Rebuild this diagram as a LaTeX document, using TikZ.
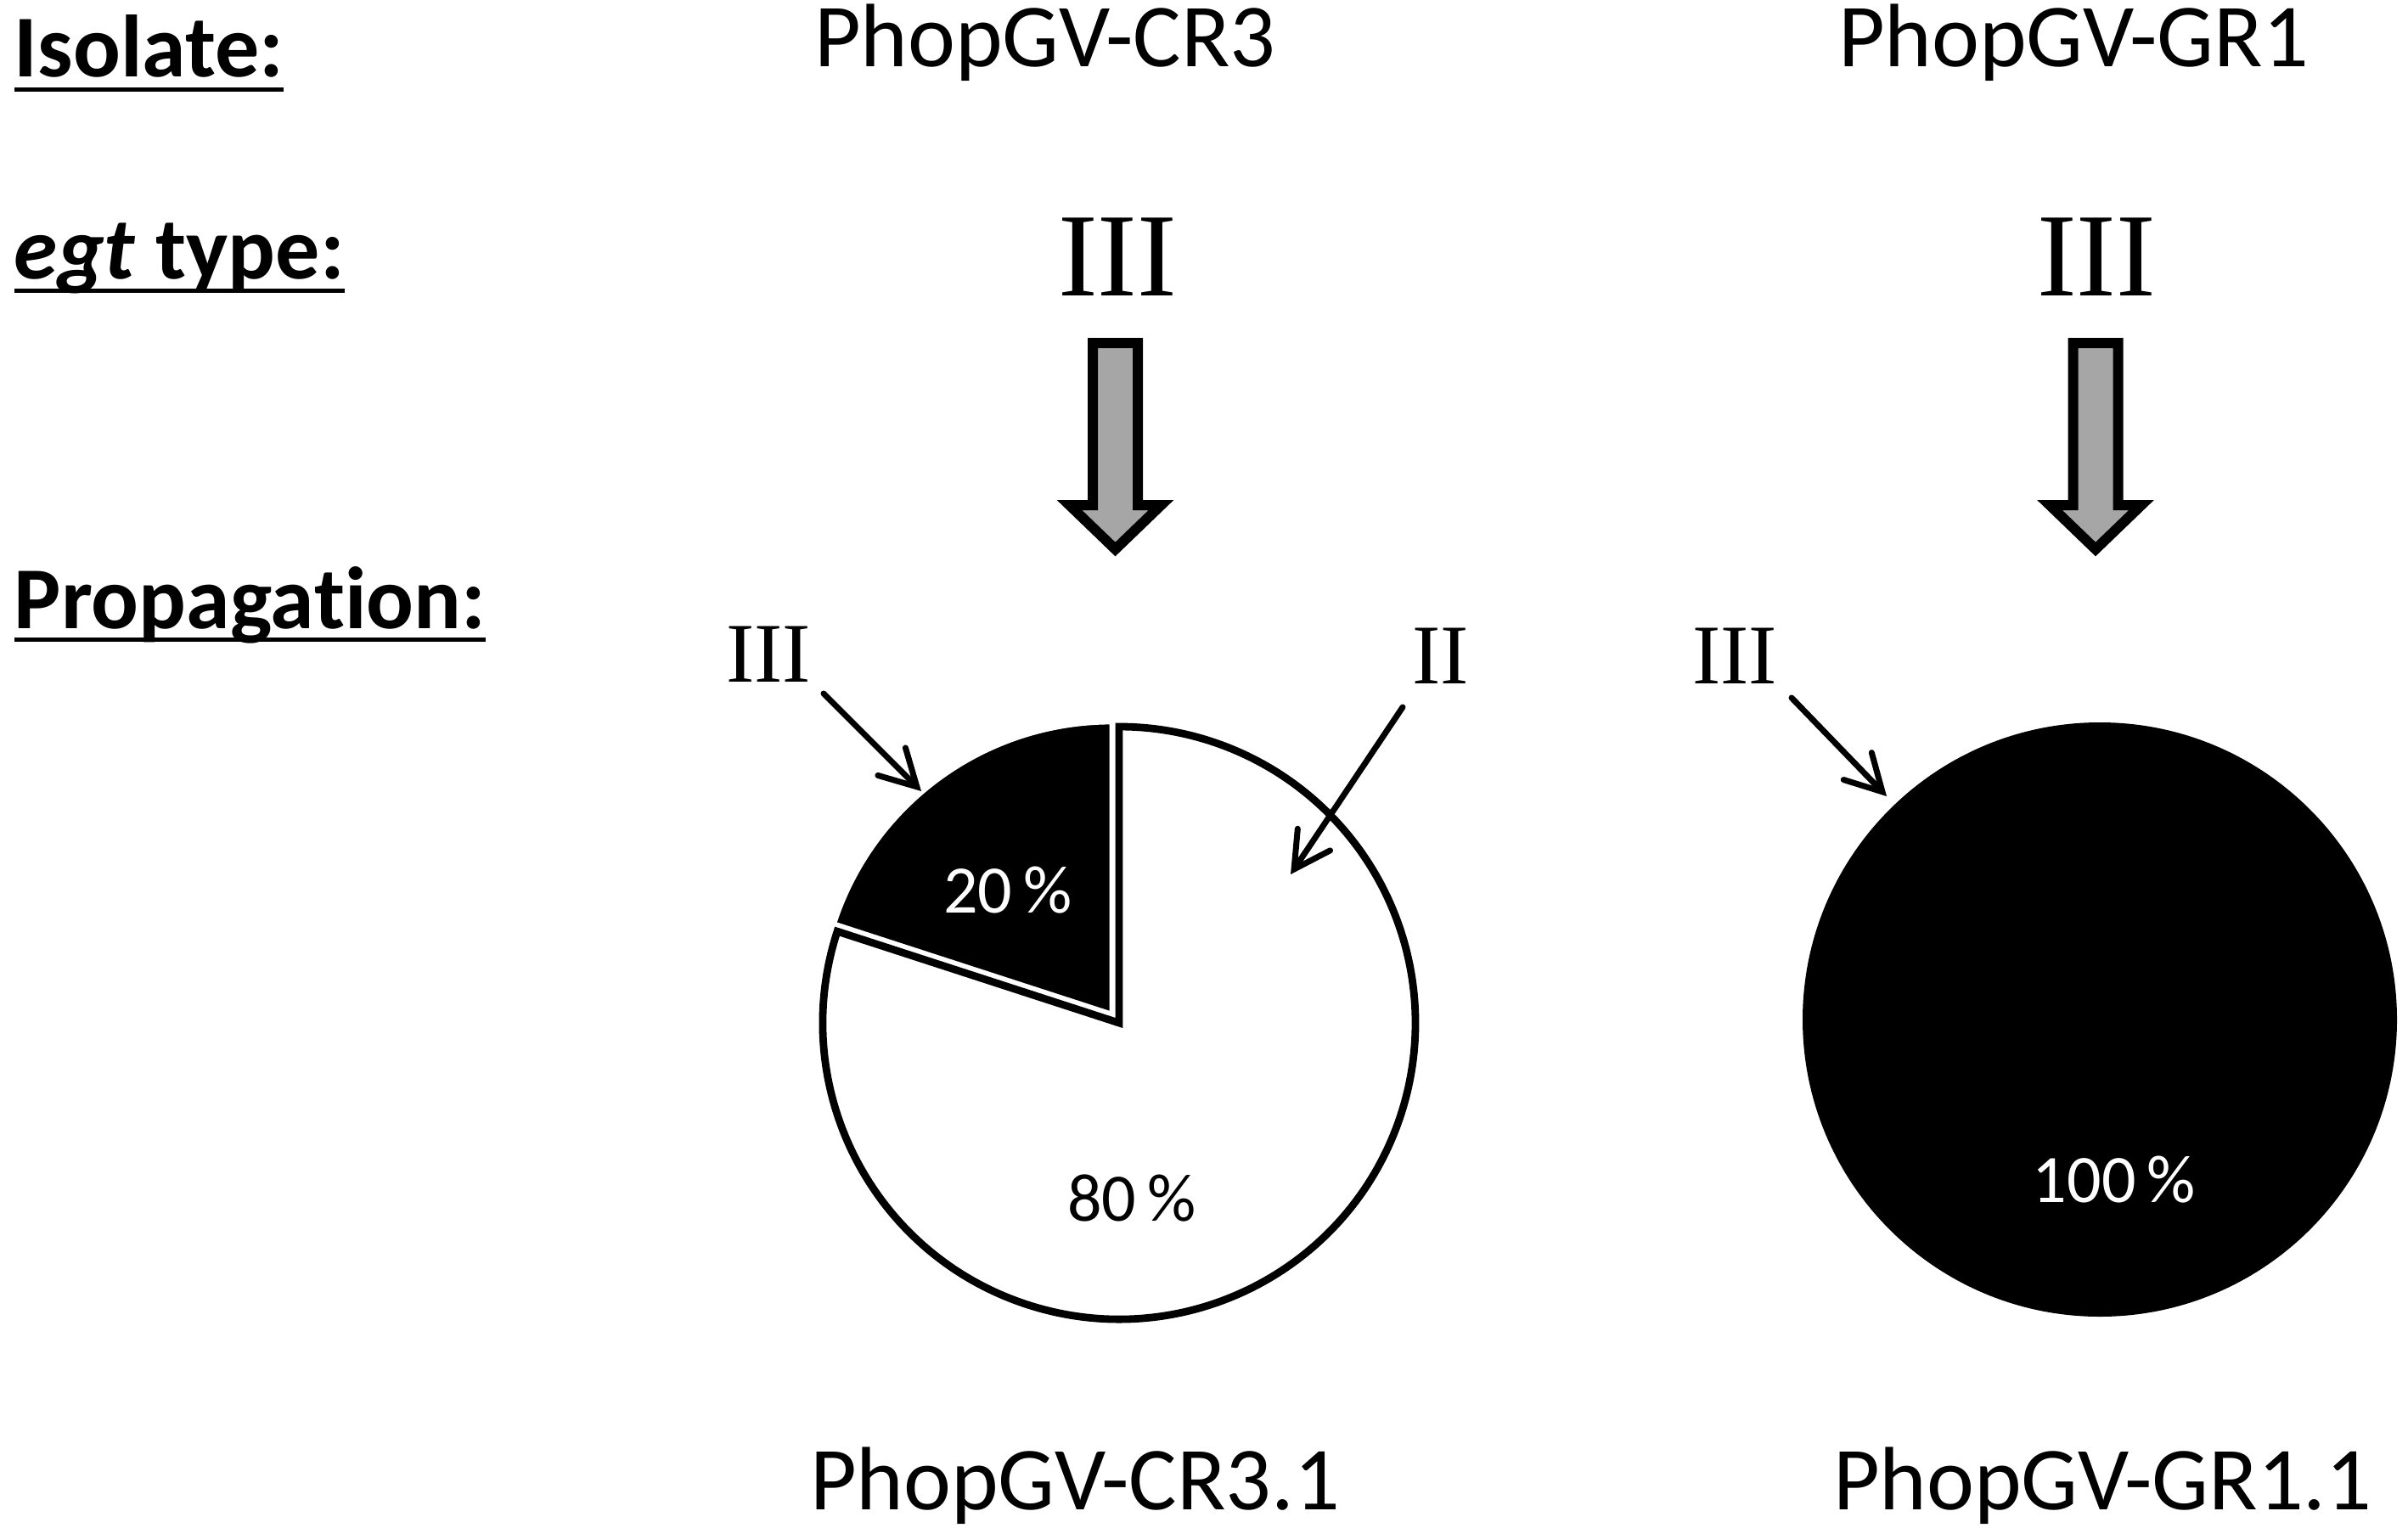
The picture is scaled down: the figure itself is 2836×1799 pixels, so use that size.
\documentclass[tikz,border=0pt]{standalone}
\usepackage{fontspec}
\setmainfont{Carlito}[Ligatures={NoCommon,NoRare,NoDiscretionary}]
\newfontfamily\romfont{Liberation Serif}
\usetikzlibrary{arrows.meta,calc}
\begin{document}
\begin{tikzpicture}[x=0.25pt,y=-0.25pt,
  every node/.style={inner sep=0pt, outer sep=0pt},
  rowlab/.style={font=\fontsize{26}{30}\selectfont\bfseries, anchor=base west},
  isolabel/.style={font=\fontsize{26.5}{32}\selectfont, anchor=base west},
  bigroman/.style={font=\romfont\fontsize{35}{40}\selectfont, anchor=base},
  smallroman/.style={font=\romfont\fontsize{25}{30}\selectfont},
  pct/.style={font=\fontsize{20}{24}\selectfont, anchor=base},
  uline/.style={line width=1.25pt},
  blockarrow/.style={fill=black!35, draw=black, line width=3pt, line join=miter},
  pointer/.style={line width=1.75pt, line cap=round, -{Straight Barb[length=10.5pt,width=11.5pt,line cap=round]}},
]
\useasboundingbox (0,0) rectangle (2836,1799);
\fill[white] (0,0) rectangle (2836,1799);

% row labels
\node[rowlab] (iso) at (17,90) {Isolate:};
\node[rowlab] (egt) at (17,328) {\textit{egt} type:};
\node[rowlab] (prop) at (17,740) {Propaga\kern0pt tion:};
\draw[uline] ($(iso.base west)+(0,15)$) -- ($(iso.base east)+(0,15)$);
\draw[uline] ($(egt.base west)+(0,14)$) -- ($(egt.base east)+(0,14)$);
\draw[uline] ($(prop.base west)+(0,13)$) -- ($(prop.base east)+(0,13)$);

% isolate names
\node[isolabel] (cr3) at (959,79) {PhopGV-CR3};
\node[isolabel] (gr1) at (2165,79) {PhopGV-GR1};
\node[isolabel] (cr31) at (954,1778) {PhopGV-CR3.1};
\node[isolabel] (gr11) at (2159,1778) {PhopGV-GR1.1};

% egt types
\node[bigroman] (t1) at (1316,348) {III};
\node[bigroman] (t2) at (2469,348) {III};

% block arrows
\coordinate (ba1) at (1313.5,404);
\coordinate (ba2) at (2468,404);
\foreach \c in {ba1,ba2}{
  \draw[blockarrow, shift={(\c)}] (-26.5,0) -- (26.5,0) -- (26.5,191) -- (54,191)
     -- (0,243) -- (-54,191) -- (-26.5,191) -- cycle;
}

% pie 1
\coordinate (pc1) at (1318,1205);
\draw[line width=2.2pt, fill=white] (pc1) -- ++(-162:349)
   arc[start angle=-162, end angle=-450, radius=349] -- cycle;
\coordinate (pc1b) at (1309,1194);
\filldraw[fill=black, draw=white, line width=1.2pt] (pc1b) -- ++(-90:343)
   arc[start angle=-90, end angle=-162, radius=343] -- cycle;
\node[pct, text=white] (p20) at (1187,1075) {20\,\%};
\node[pct] (p80) at (1333,1438) {80\,\%};

% pie 2
\coordinate (pc2) at (2473,1201);
\fill[black] (pc2) circle[radius=350];
\node[pct, text=white] (p100) at (2490,1416) {100\,\%};

% small labels and pointers
\node[smallroman, anchor=base east] (r1) at (955,803) {III};
\node[smallroman, anchor=base west] (r2) at (1663,805) {II};
\node[smallroman, anchor=base east] (r3) at (2093,805) {III};
\coordinate (p1s) at ($(r1.base east)+(15,14)$);
\coordinate (p1e) at (1085,932);
\coordinate (p2s) at ($(r2.base west)+(-11,28)$);
\coordinate (p2e) at (1520,1030);
\coordinate (p3s) at ($(r3.base east)+(17,17)$);
\coordinate (p3e) at (2222,938);
\draw[pointer] (p1s) -- (p1e);
\draw[pointer] (p2s) -- (p2e);
\draw[pointer] (p3s) -- (p3e);
\end{tikzpicture}
\end{document}
